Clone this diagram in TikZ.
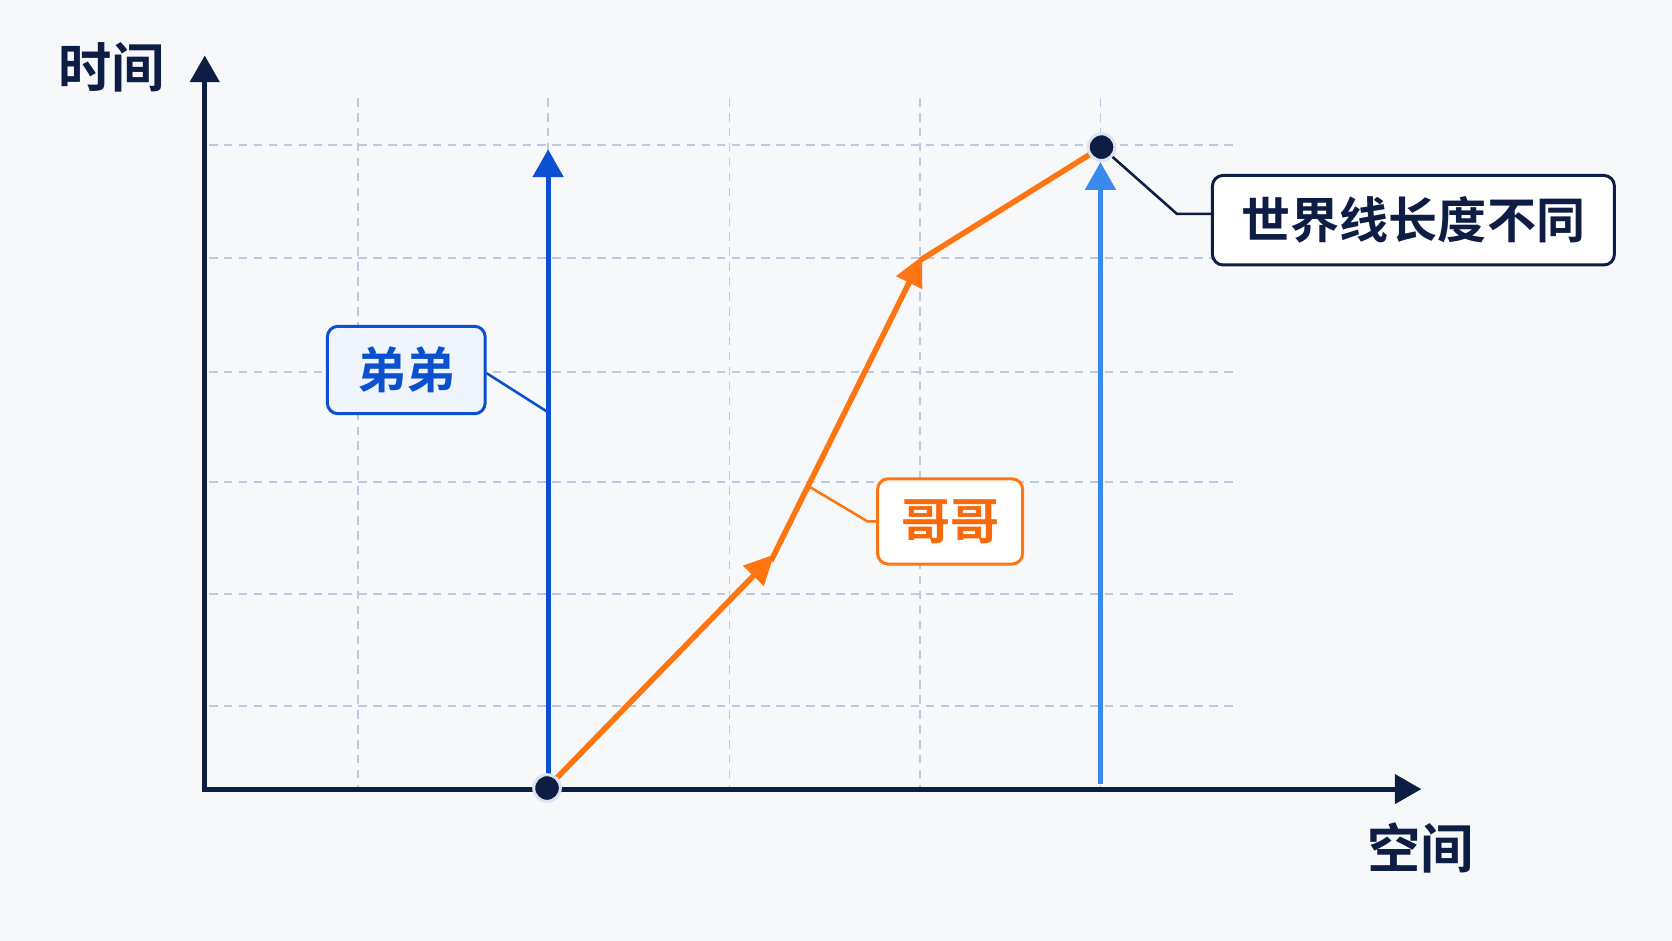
\documentclass[tikz,border=0pt]{standalone}
\usepackage{fontspec}
\setmainfont{Noto Sans CJK SC}[BoldFont={Noto Sans CJK SC Bold}]
\usetikzlibrary{arrows.meta}
\definecolor{bgc}{HTML}{F7F8FA}
\definecolor{navy}{HTML}{0E1D44}
\definecolor{gridc}{HTML}{BCC9E0}
\definecolor{bluec}{HTML}{0B50CF}
\definecolor{lblue}{HTML}{3A89EE}
\definecolor{orangec}{HTML}{FF7512}
\definecolor{oranget}{HTML}{F7690A}
\definecolor{ringc}{HTML}{DCE3F2}
\tikzset{
  gridline/.style={draw=gridc, line width=0.75pt, dash pattern=on 4pt off 3pt},
  axisline/.style={draw=navy, line width=2.4pt, -{Triangle[length=12.5pt,width=13.5pt]}},
  worldblue/.style={draw=bluec, line width=2.4pt, -{Triangle[length=13pt,width=14pt]}},
  worldlblue/.style={draw=lblue, line width=2.4pt, -{Triangle[length=13pt,width=14pt]}},
  worldorange/.style={draw=orangec, line width=2.6pt},
  worldorangearrow/.style={worldorange, -{Triangle[length=14pt,width=13pt]}},
  dotnode/.style={circle, fill=navy, draw=ringc, line width=1.4pt, minimum size=12.5pt, inner sep=0pt},
  labelbox/.style={rounded corners=5pt, line width=1.4pt, fill=white, align=center, font=\bfseries\fontsize{23}{23}\selectfont},
  axislabel/.style={text=navy, font=\bfseries\fontsize{25}{25}\selectfont},
}
\begin{document}
\begin{tikzpicture}[x=0.5pt, y=-0.5pt]
\fill[bgc] (0,0) rectangle (1568,882);
\useasboundingbox (0,0) rectangle (1568,882);
% grid
\foreach \gx in {336,514,684,863,1032} \draw[gridline] (\gx,92) -- (\gx,738);
\foreach \gy in {136,242,349,452,557,662} \draw[gridline] (196,\gy) -- (1162,\gy);
% coordinates
\coordinate (O) at (192,740);
\coordinate (Ytip) at (192,52);
\coordinate (Xtip) at (1333,740);
\coordinate (p0) at (513,739);
\coordinate (p1) at (1033,138);
\coordinate (btop) at (514,140);
\coordinate (bbot) at (514,738);
\coordinate (lbot) at (1032,735);
\coordinate (ltop) at (1032,152);
\coordinate (a1) at (726,520);
\coordinate (a2) at (865,240);
\coordinate (c1) at (513,386);
\coordinate (c2) at (760,457);
% axes
\draw[axisline] (O) -- (Ytip);
\draw[axisline] ([xshift=-1.2pt]O) -- (Xtip);
% world lines
\draw[worldblue] (bbot) -- (btop);
\draw[worldlblue] (lbot) -- (ltop);
\draw[worldorangearrow, shorten <=6pt] (p0) -- (a1);
\draw[worldorangearrow] ([shift={(-3,6)}]a1) -- (a2);
\draw[worldorange, shorten >=5pt] ([shift={(-2,4)}]a2) -- (p1);
% dots
\node[dotnode] (d0) at (p0) {};
\node[dotnode] (d1) at (p1) {};
% axis labels
\node[axislabel] (tl) at (105,63) {时间};
\node[axislabel] (sl) at (1332,795) {空间};
% label boxes
\node[labelbox, draw=bluec, fill=white!94!bluec, text=bluec, minimum width=74pt, minimum height=41pt] (dd) at (381,347) {弟弟};
\node[labelbox, draw=orangec, text=oranget, minimum width=68pt, minimum height=40pt] (gg) at (891,489) {哥哥};
\node[labelbox, draw=navy, text=navy, minimum width=188.5pt, minimum height=42pt] (wl) at (1325.5,206.5) {世界线长度不同};
% connectors
\draw[bluec, line width=1.2pt] ([yshift=-1.5pt]dd.east) -- (c1);
\draw[orangec, line width=1.2pt] (gg.west) -- ++(-8,0) -- (c2);
\draw[navy, line width=1.2pt] ([yshift=3pt]wl.west) -- ++(-32,0) -- (d1);
\end{tikzpicture}
\end{document}
